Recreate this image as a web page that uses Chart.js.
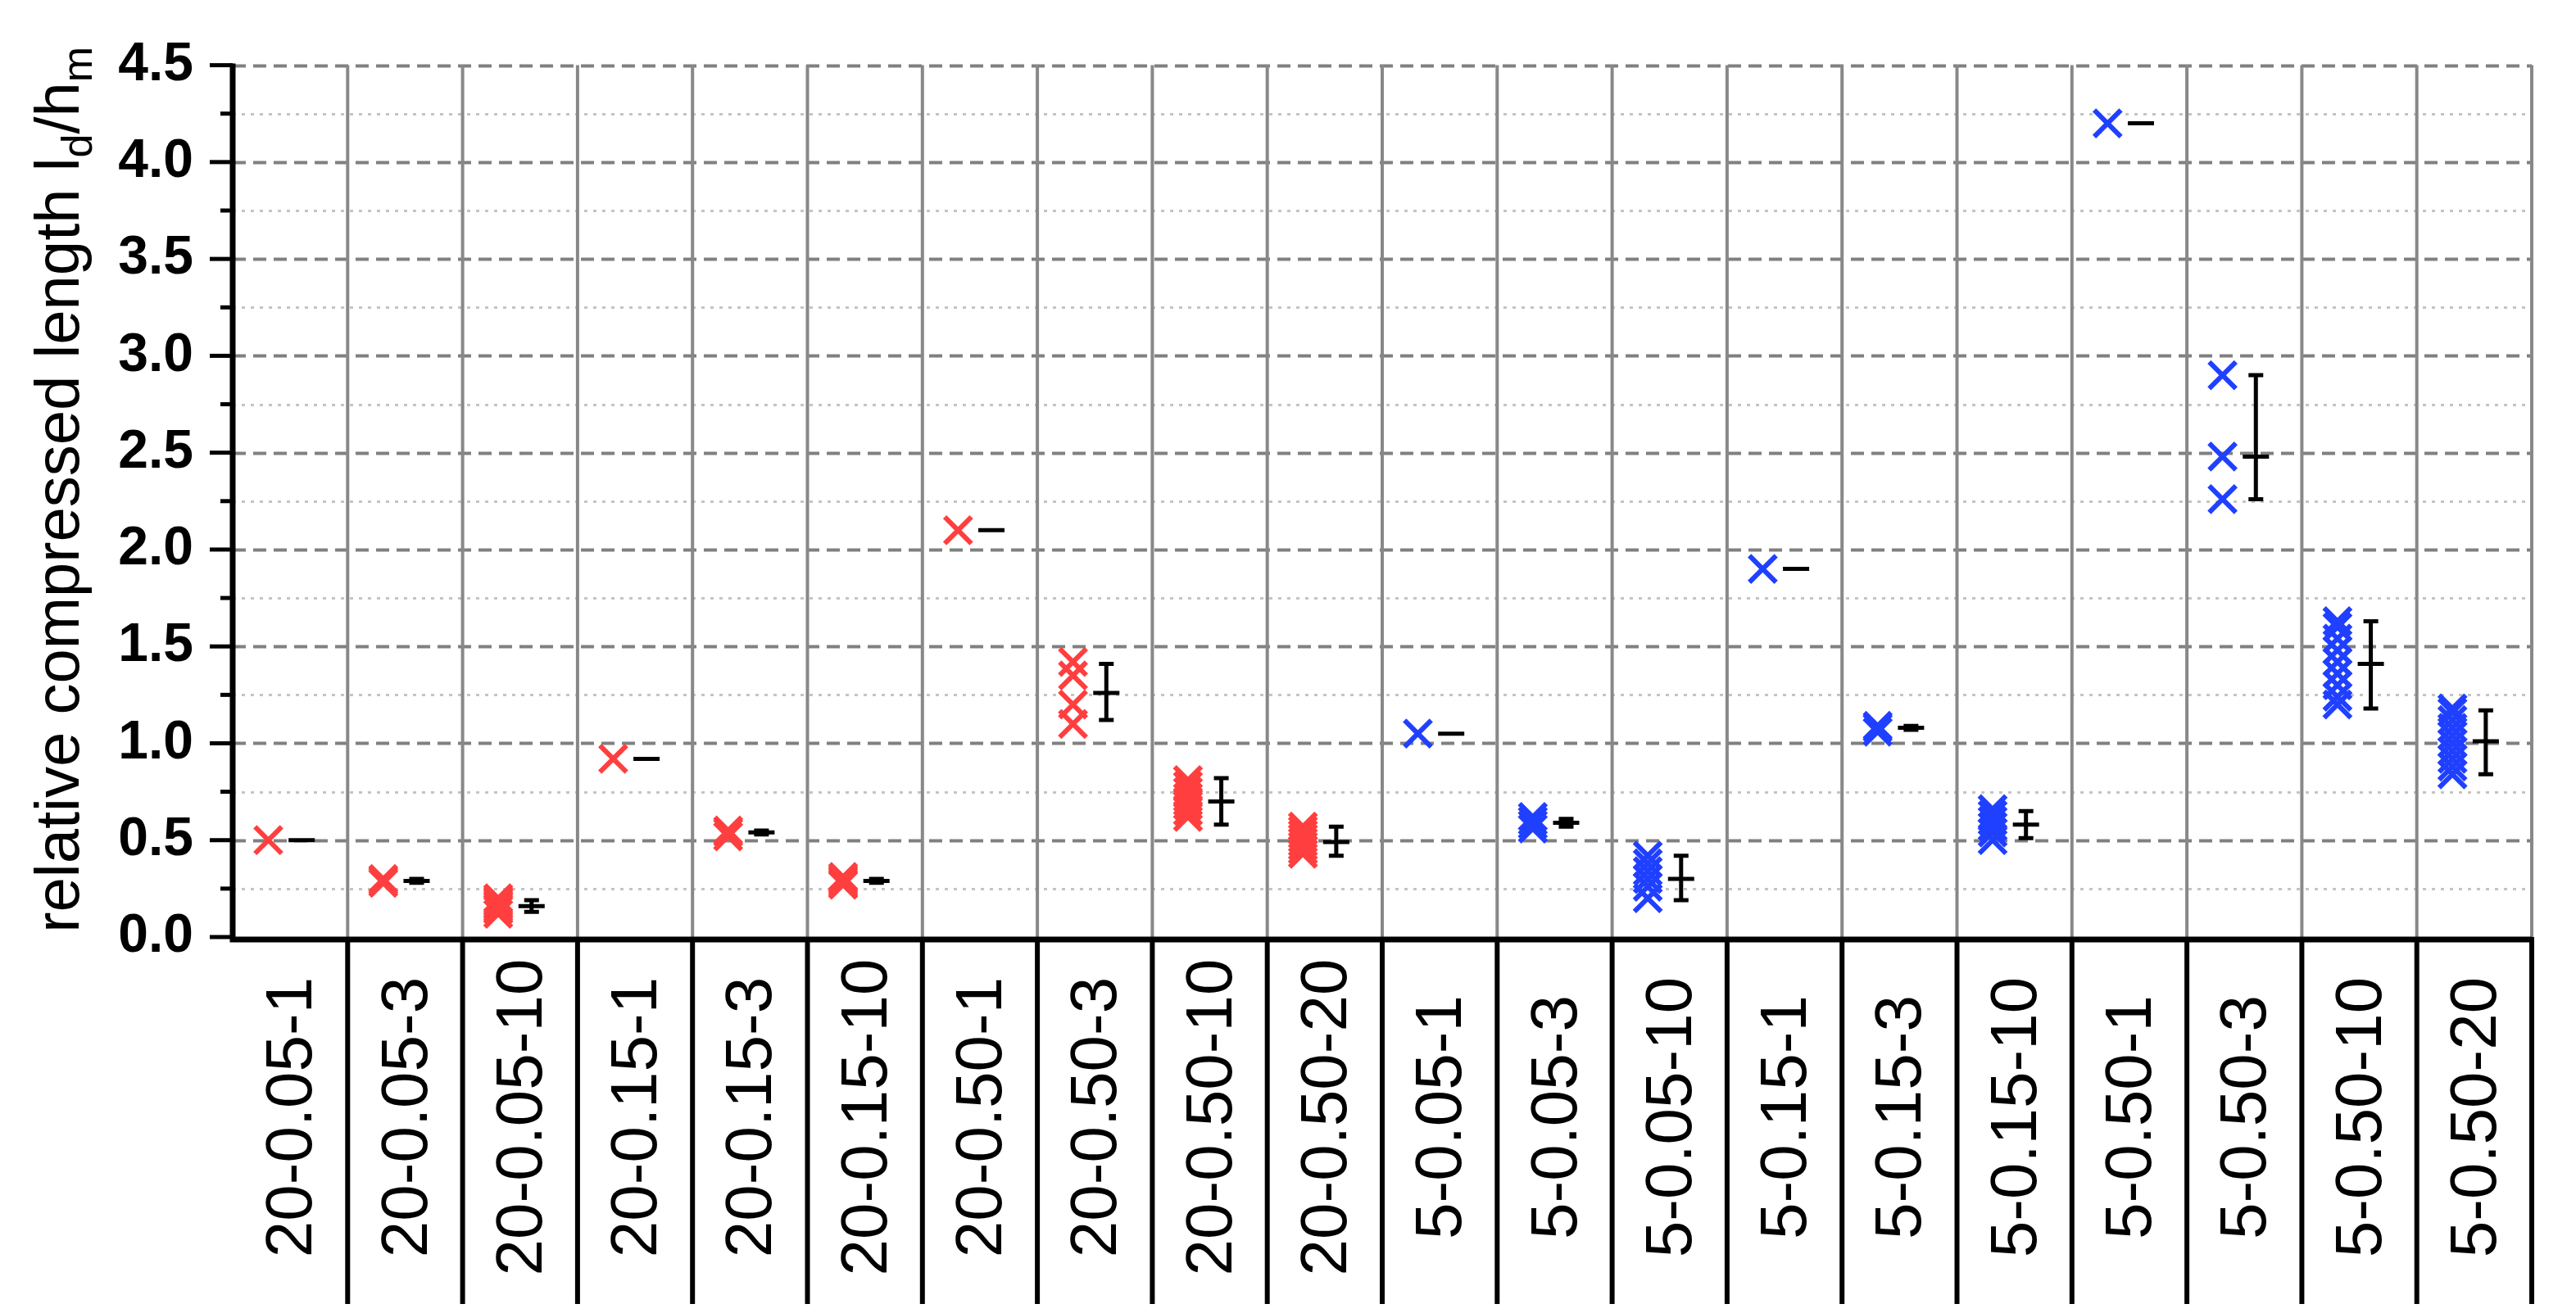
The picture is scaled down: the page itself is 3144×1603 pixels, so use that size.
<!DOCTYPE html>
<html>
<head>
<meta charset="utf-8">
<script src="https://cdn.jsdelivr.net/npm/chart.js@4.4.1/dist/chart.umd.min.js"></script>
<style>
  html, body { margin: 0; padding: 0; background: #fff; }
  #wrap { width: 3144px; height: 1603px; }
</style>
</head>
<body>
<div id="wrap"><canvas id="c"></canvas></div>
<script>
// Data
const categories = ['20-0.05-1', '20-0.05-3', '20-0.05-10', '20-0.15-1', '20-0.15-3', '20-0.15-10',
  '20-0.50-1', '20-0.50-3', '20-0.50-10', '20-0.50-20', '5-0.05-1', '5-0.05-3', '5-0.05-10',
  '5-0.15-1', '5-0.15-3', '5-0.15-10', '5-0.50-1', '5-0.50-3', '5-0.50-10', '5-0.50-20'];

// individual measurements per category
const samples = [
  [0.50],
  [0.28, 0.29, 0.30],
  [0.12, 0.14, 0.15, 0.16, 0.17, 0.18, 0.19, 0.20],
  [0.92],
  [0.52, 0.54, 0.55],
  [0.27, 0.28, 0.29, 0.30, 0.31],
  [2.10],
  [1.10, 1.20, 1.35, 1.42],
  [0.62, 0.65, 0.68, 0.70, 0.72, 0.75, 0.78, 0.81],
  [0.43, 0.45, 0.47, 0.49, 0.51, 0.53, 0.55, 0.57],
  [1.05],
  [0.56, 0.58, 0.60, 0.62],
  [0.20, 0.26, 0.30, 0.34, 0.38, 0.42],
  [1.90],
  [1.06, 1.08, 1.09],
  [0.50, 0.54, 0.57, 0.60, 0.63, 0.66],
  [4.20],
  [2.26, 2.48, 2.90],
  [1.20, 1.24, 1.30, 1.36, 1.42, 1.48, 1.54, 1.60, 1.63],
  [0.84, 0.88, 0.92, 0.96, 1.00, 1.04, 1.08, 1.12, 1.16, 1.18]
];

// mean and error bar ends per category
const means   = [0.50, 0.29, 0.16, 0.92, 0.54, 0.29, 2.10, 1.26, 0.70, 0.49, 1.05, 0.59, 0.30, 1.90, 1.08, 0.58, 4.20, 2.48, 1.41, 1.01];
const errLow  = [0.50, 0.28, 0.13, 0.92, 0.53, 0.28, 2.10, 1.12, 0.58, 0.42, 1.05, 0.57, 0.19, 1.90, 1.07, 0.51, 4.20, 2.26, 1.18, 0.84];
const errHigh = [0.50, 0.30, 0.19, 0.92, 0.55, 0.30, 2.10, 1.41, 0.82, 0.57, 1.05, 0.61, 0.42, 1.90, 1.09, 0.65, 4.20, 2.90, 1.63, 1.17];

const yTicks = [0.0, 0.5, 1.0, 1.5, 2.0, 2.5, 3.0, 3.5, 4.0, 4.5];

const RED = '#ff3f3f';
const BLUE = '#2040ff';
const CROSS_OFFSET = -0.19;
const ERR_OFFSET = 0.1;

const points = [];
const colors = [];
samples.forEach((vals, i) => {
  vals.forEach(v => {
    points.push({ x: i + CROSS_OFFSET, y: v });
    colors.push(categories[i].startsWith('20') ? RED : BLUE);
  });
});

const AREA = { left: 284, right: 3090, top: 62, bottom: 1144 };

const decorPlugin = {
  id: 'decor',
  beforeDatasetsDraw(chart) {
    const { ctx } = chart;
    const x = chart.scales.x, y = chart.scales.y;
    ctx.save();
    // horizontal grid
    for (let v = 0.25; v <= 4.5; v += 0.25) {
      const py = Math.round(y.getPixelForValue(v)) + 0.5;
      const major = Math.abs(v * 2 - Math.round(v * 2)) < 1e-6;
      ctx.strokeStyle = major ? '#808080' : '#c4c4c4';
      ctx.lineWidth = major ? 4 : 3;
      ctx.setLineDash(major ? [16, 9] : [4, 7]);
      ctx.beginPath();
      ctx.moveTo(x.left, py);
      ctx.lineTo(x.right, py);
      ctx.stroke();
    }
    ctx.setLineDash([]);
    // separators inside plot
    ctx.strokeStyle = '#888';
    ctx.lineWidth = 4;
    for (let i = 0; i < categories.length; i++) {
      const px = x.getPixelForValue(i + 0.5);
      ctx.beginPath();
      ctx.moveTo(px, y.top);
      ctx.lineTo(px, y.bottom);
      ctx.stroke();
    }
    ctx.restore();
  },
  afterDatasetsDraw(chart) {
    const { ctx } = chart;
    const x = chart.scales.x, y = chart.scales.y;
    ctx.save();
    // error bars
    ctx.strokeStyle = '#000';
    ctx.lineWidth = 5;
    means.forEach((m, i) => {
      const px = x.getPixelForValue(i + ERR_OFFSET);
      const lo = y.getPixelForValue(errLow[i]);
      const hi = y.getPixelForValue(errHigh[i]);
      const pm = y.getPixelForValue(m);
      ctx.beginPath();
      ctx.moveTo(px, lo); ctx.lineTo(px, hi);
      ctx.moveTo(px - 9, lo); ctx.lineTo(px + 9, lo);
      ctx.moveTo(px - 9, hi); ctx.lineTo(px + 9, hi);
      ctx.moveTo(px - 16, pm); ctx.lineTo(px + 16, pm);
      ctx.stroke();
    });
    // axes
    ctx.lineWidth = 7;
    ctx.beginPath();
    ctx.moveTo(x.left, y.top - 2); ctx.lineTo(x.left, y.bottom + 3);
    ctx.lineTo(x.right, y.bottom + 3);
    ctx.stroke();
    // y tick marks
    ctx.lineWidth = 5;
    for (let v = 0; v <= 4.5001; v += 0.25) {
      const py = y.getPixelForValue(v);
      const major = Math.abs(v * 2 - Math.round(v * 2)) < 1e-6;
      ctx.beginPath();
      ctx.moveTo(x.left, py);
      ctx.lineTo(x.left - (major ? 28 : 15), py);
      ctx.stroke();
    }
    // separators below the axis
    ctx.lineWidth = 6;
    for (let i = 0; i < categories.length; i++) {
      const px = x.getPixelForValue(i + 0.5);
      ctx.beginPath();
      ctx.moveTo(px, y.bottom);
      ctx.lineTo(px, 1592);
      ctx.stroke();
    }
    // category labels
    ctx.fillStyle = '#000';
    ctx.font = '80px "Liberation Sans Narrow", "Liberation Sans", Arial, sans-serif';
    ctx.textAlign = 'center';
    ctx.textBaseline = 'middle';
    categories.forEach((c, i) => {
      const px = x.getPixelForValue(i) + 4;
      ctx.save();
      ctx.translate(px, 1364);
      ctx.rotate(-Math.PI / 2);
      ctx.fillText(c, 0, 0);
      ctx.restore();
    });
    // y title with subscripts
    const parts = [
      { t: 'relative compressed length l', sub: false },
      { t: 'd', sub: true },
      { t: '/h', sub: false },
      { t: 'm', sub: true }
    ];
    const big = '76px "Liberation Sans Narrow", "Liberation Sans", Arial, sans-serif';
    const small = '52px "Liberation Sans Narrow", "Liberation Sans", Arial, sans-serif';
    ctx.textAlign = 'left';
    ctx.textBaseline = 'alphabetic';
    let total = 0;
    parts.forEach(p => { ctx.font = p.sub ? small : big; total += ctx.measureText(p.t).width; });
    ctx.save();
    ctx.translate(96, (y.top + y.bottom) / 2 - 14);
    ctx.rotate(-Math.PI / 2);
    let cx = -total / 2;
    parts.forEach(p => {
      ctx.font = p.sub ? small : big;
      ctx.fillText(p.t, cx, p.sub ? 16 : 0);
      cx += ctx.measureText(p.t).width;
    });
    ctx.restore();
    ctx.restore();
  }
};

new Chart(document.getElementById('c'), {
  type: 'scatter',
  data: {
    datasets: [{
      data: points,
      pointStyle: 'crossRot',
      pointRadius: 23,
      pointHoverRadius: 23,
      pointBorderWidth: 6,
      pointBorderColor: colors,
      pointBackgroundColor: colors
    }]
  },
  options: {
    responsive: true,
    maintainAspectRatio: false,
    animation: false,
    devicePixelRatio: 1,
    layout: { padding: { left: 0, right: 3144 - AREA.right, top: 30, bottom: 0 } },
    plugins: { legend: { display: false }, tooltip: { enabled: false } },
    scales: {
      x: {
        type: 'linear',
        min: -0.5,
        max: categories.length - 0.5,
        grid: { display: false },
        border: { display: false },
        ticks: { display: false },
        afterFit(scale) { scale.height = 1603 - AREA.bottom; }
      },
      y: {
        min: 0,
        max: 4.5,
        grid: { display: false },
        border: { display: false },
        afterBuildTicks(scale) { scale.ticks = yTicks.map(v => ({ value: v })); },
        ticks: {
          padding: 40,
          color: '#000',
          font: { family: '"Liberation Sans", Arial, sans-serif', size: 66, weight: 'bold' },
          callback: v => v.toFixed(1)
        },
        afterFit(scale) { scale.width = AREA.left; }
      }
    }
  },
  plugins: [decorPlugin]
});
</script>
</body>
</html>
